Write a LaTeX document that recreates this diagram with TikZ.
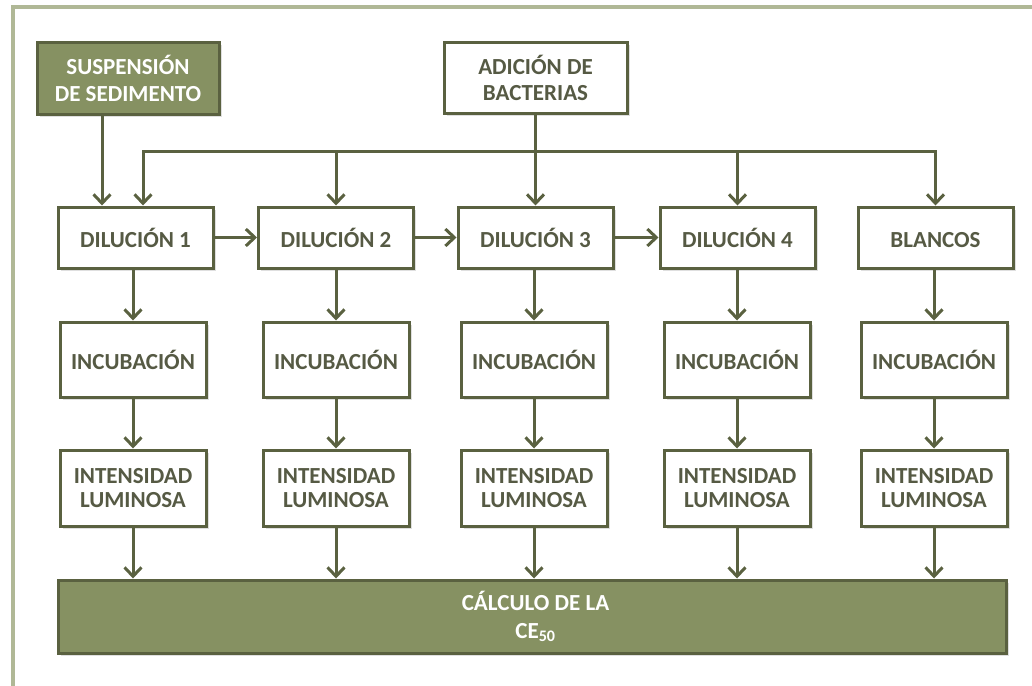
\documentclass[tikz,border=0pt]{standalone}
\usepackage{fontspec}
\setmainfont{Carlito}
\usetikzlibrary{arrows.meta,shadows}

\definecolor{framec}{RGB}{176,184,150}
\definecolor{edge}{RGB}{90,97,64}
\definecolor{olive}{RGB}{134,145,98}
\definecolor{ink}{RGB}{86,90,68}

\tikzset{
  box/.style={draw=edge, line width=3pt, fill=white, text=ink,
    font=\bfseries\fontsize{23}{24}\selectfont, align=center,
    inner sep=0pt, drop shadow={opacity=0.25, shadow xshift=2.5pt, shadow yshift=-2.5pt}},
  darkbox/.style={box, fill=olive, text=white},
  dil/.style={box, minimum width=155pt, minimum height=61pt},
  inc/.style={box, minimum width=146pt, minimum height=75pt},
  arr/.style={draw=edge, line width=3pt,
    -{Straight Barb[length=9pt, width=17pt]}},
  bus/.style={draw=edge, line width=3pt, line cap=rect}
}

\begin{document}
\begin{tikzpicture}[x=1pt, y=-1pt]
  \useasboundingbox (0,0) rectangle (1032,685);

  % outer frame (top and left edges)
  \draw[framec, line width=4pt] (13,687) -- (13,7) -- (1034,7);

  % sources
  \node[darkbox, minimum width=182pt, minimum height=71pt,
        font=\bfseries\fontsize{23}{26.5}\selectfont] (sus) at (128,78.5)
    {SUSPENSIÓN\\DE SEDIMENTO};
  \node[box, minimum width=183pt, minimum height=70pt,
        font=\bfseries\fontsize{23}{26.5}\selectfont] (adi) at (535.5,78)
    {ADICIÓN DE\\BACTERIAS};

  % dilution row
  \node[dil] (d1) at (135.5,237.5) {DILUCIÓN 1};
  \node[dil] (d2) at (336,237.5) {DILUCIÓN 2};
  \node[dil] (d3) at (535.5,237.5) {DILUCIÓN 3};
  \node[dil] (d4) at (737.5,237.5) {DILUCIÓN 4};
  \node[dil] (d5) at (935.5,237.5) {\vphantom{Ó}BLANCOS};

  % incubation row
  \node[inc] (i1) at (133,359.5) {INCUBACIÓN};
  \node[inc] (i2) at (336,359.5) {INCUBACIÓN};
  \node[inc] (i3) at (534,359.5) {INCUBACIÓN};
  \node[inc] (i4) at (737,359.5) {INCUBACIÓN};
  \node[inc] (i5) at (934,359.5) {INCUBACIÓN};

  % light intensity row
  \node[inc, minimum height=76pt] (l1) at (133,488) {INTENSIDAD\\LUMINOSA};
  \node[inc, minimum height=76pt] (l2) at (336,488) {INTENSIDAD\\LUMINOSA};
  \node[inc, minimum height=76pt] (l3) at (534,488) {INTENSIDAD\\LUMINOSA};
  \node[inc, minimum height=76pt] (l4) at (737,488) {INTENSIDAD\\LUMINOSA};
  \node[inc, minimum height=76pt] (l5) at (934,488) {INTENSIDAD\\LUMINOSA};

  % result
  \node[darkbox, minimum width=948pt, minimum height=73pt,
        font=\bfseries\fontsize{23}{28}\selectfont] (ce) at (532,616.5)
    {\hspace*{7pt}CÁLCULO DE LA\\\hspace*{7pt}CE\textsubscript{50}};

  % sediment suspension feed
  \draw[arr] ([xshift=-26pt]sus.south) -- ([xshift=-26pt]sus.south |- d1.north);

  % bacteria distribution bus
  \coordinate (busL) at (143,151);
  \draw[bus] (busL) -- (busL -| d5.north);
  \draw[arr] (busL) -- (busL |- d1.north);
  \draw[arr] (busL -| d2.north) -- (d2.north);
  \draw[arr] (adi.south) -- (d3.north);
  \draw[arr] (busL -| d4.north) -- (d4.north);
  \draw[arr] (busL -| d5.north) -- (d5.north);

  % serial dilutions
  \draw[arr] (d1.east) -- (d2.west);
  \draw[arr] (d2.east) -- (d3.west);
  \draw[arr] (d3.east) -- (d4.west);

  % column flows
  \foreach \k in {1,...,5} {
    \draw[arr] (d\k.south -| i\k.north) -- (i\k.north);
    \draw[arr] (i\k.south) -- (l\k.north);
    \draw[arr] (l\k.south) -- (l\k.south |- ce.north);
  }
\end{tikzpicture}
\end{document}
